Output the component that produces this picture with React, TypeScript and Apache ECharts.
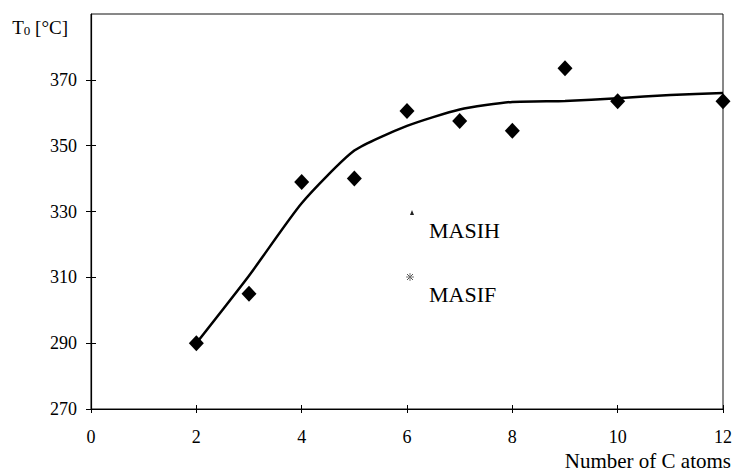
import React, { useEffect, useRef } from "react";
import * as echarts from "echarts";

const carbonAtoms = [2, 3, 4, 5, 6, 7, 8, 9, 10, 12];
const t0Measured = [290, 305, 339, 340, 360.5, 357.5, 354.5, 373.5, 363.5, 363.5];
const fitAtoms = [2, 3, 4, 5, 6, 7, 8, 9, 10, 11, 12];
const t0Fit = [290, 310.5, 332.5, 348.5, 356, 361, 363.3, 363.6, 364.4, 365.4, 366];
const yTicks = [270, 290, 310, 330, 350, 370];
const xTicks = [0, 2, 4, 6, 8, 10, 12];
const legendNames = ["MASIH", "MASIF"];

const FONT = "'Liberation Serif', 'Times New Roman', serif";

export default function App() {
  const ref = useRef<HTMLDivElement>(null);
  useEffect(() => {
    if (!ref.current) return;
    const chart = echarts.init(ref.current, null, { renderer: "svg" });
    const axisCommon = {
      axisLine: { show: true, lineStyle: { color: "#000", width: 1.2 } },
      splitLine: { show: false },
    };
    chart.setOption({
      animation: false,
      backgroundColor: "#fff",
      grid: {
        left: 91,
        right: 10,
        top: 14,
        bottom: 62,
        show: true,
        borderColor: "#111",
        borderWidth: 1,
      },
      xAxis: [
        {
          type: "value",
          min: 0,
          max: 12,
          interval: 2,
          position: "bottom",
          ...axisCommon,
          axisTick: { show: true, inside: false, length: 4, lineStyle: { color: "#000" }, customValues: xTicks },
          axisLabel: {
            color: "#000",
            fontFamily: FONT,
            fontSize: 18,
            margin: 19,
            customValues: xTicks,
          },
          name: "Number of C atoms",
          nameLocation: "end",
          nameGap: 8,
          nameTextStyle: {
            color: "#000",
            fontFamily: FONT,
            fontSize: 21,
            align: "right",
            verticalAlign: "top",
            padding: [41, 0, 0, 0],
          },
        },
        {
          type: "value",
          min: 0,
          max: 12,
          interval: 2,
          position: "bottom",
          axisLine: { show: false },
          splitLine: { show: false },
          axisLabel: { show: false },
          axisTick: { show: true, inside: true, length: 4, lineStyle: { color: "#000" }, customValues: xTicks },
        },
      ],
      yAxis: [
        {
          type: "value",
          min: 270,
          max: 390,
          interval: 20,
          position: "left",
          ...axisCommon,
          axisTick: { show: true, inside: false, length: 5, lineStyle: { color: "#000" }, customValues: yTicks },
          axisLabel: {
            color: "#000",
            fontFamily: FONT,
            fontSize: 18,
            margin: 14,
            customValues: yTicks,
          },
          name: "T{sub|0} [°C]",
          nameLocation: "end",
          nameGap: -13,
          nameTextStyle: {
            color: "#000",
            fontFamily: FONT,
            fontSize: 19,
            align: "right",
            verticalAlign: "middle",
            padding: [0, 23, 0, 0],
            rich: {
              sub: { fontFamily: FONT, fontSize: 13, verticalAlign: "bottom", padding: [6, 0, 0, 0], color: "#000" },
            },
          },
        },
        {
          type: "value",
          min: 270,
          max: 390,
          interval: 20,
          position: "left",
          axisLine: { show: false },
          splitLine: { show: false },
          axisLabel: { show: false },
          axisTick: { show: true, inside: true, length: 5, lineStyle: { color: "#000" }, customValues: yTicks },
        },
      ],
      series: [
        {
          name: "Fit",
          type: "line",
          smooth: 0.2,
          showSymbol: false,
          symbol: "none",
          lineStyle: { color: "#000", width: 2.5 },
          data: fitAtoms.map((x, i) => [x, t0Fit[i]]),
          z: 2,
        },
        {
          name: "T0",
          type: "scatter",
          symbol: "diamond",
          symbolSize: [15, 16],
          itemStyle: { color: "#000", opacity: 1 },
          data: carbonAtoms.map((x, i) => [x, t0Measured[i]]),
          z: 3,
        },
      ],
      graphic: [
        {
          type: "polygon",
          shape: { points: [[412, 210], [410, 215], [414, 215]] },
          style: { fill: "#222" },
        },
        {
          type: "text",
          left: 429,
          top: 219,
          style: { text: legendNames[0], font: `22px ${FONT}`, fill: "#000" },
        },
        {
          type: "group",
          children: [
            { type: "line", shape: { x1: 407, y1: 274, x2: 413, y2: 280 }, style: { stroke: "#555", lineWidth: 1 } },
            { type: "line", shape: { x1: 413, y1: 274, x2: 407, y2: 280 }, style: { stroke: "#555", lineWidth: 1 } },
            { type: "line", shape: { x1: 406, y1: 277, x2: 414, y2: 277 }, style: { stroke: "#777", lineWidth: 1 } },
            { type: "line", shape: { x1: 410, y1: 273, x2: 410, y2: 281 }, style: { stroke: "#777", lineWidth: 1 } },
          ],
        },
        {
          type: "text",
          left: 429,
          top: 283,
          style: { text: legendNames[1], font: `22px ${FONT}`, fill: "#000" },
        },
      ],
    });
    return () => chart.dispose();
  }, []);
  return <div ref={ref} style={{ width: 735, height: 471, position: "absolute", left: 0, top: 0 }} />;
}
